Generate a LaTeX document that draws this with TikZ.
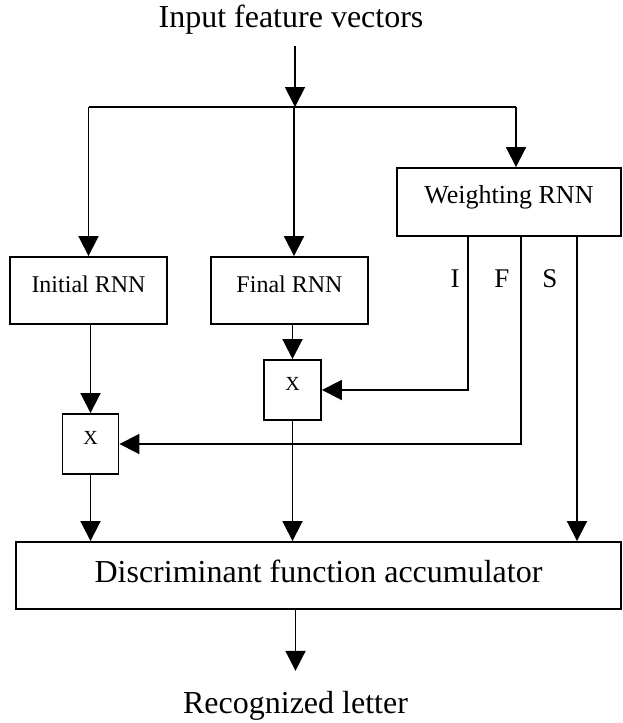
\documentclass[tikz,border=0pt]{standalone}
\usepackage{fontspec}
\setmainfont{Liberation Serif}
\usetikzlibrary{arrows.meta}
\begin{document}
\begin{tikzpicture}[x=1pt,y=-1pt,
  line width=1.9pt,
  arr/.style={-{Triangle[length=20pt,width=20pt]}},
  plain/.style={draw=none,inner sep=0pt,anchor=base},
  boxn/.style={draw,rectangle,inner sep=0pt},
  big/.style={font=\fontsize{32}{38}\selectfont},
  mid/.style={font=\fontsize{26}{31}\selectfont},
  sml/.style={font=\fontsize{24}{29}\selectfont},
  xs/.style={font=\fontsize{20}{24}\selectfont},
  lab/.style={font=\fontsize{27}{32}\selectfont}]
\useasboundingbox (0,0) rectangle (623,723);

\node[plain,big] (title) at (291,27) {Input feature vectors};
\node[plain,big] (out) at (295.5,713) {Recognized letter};

\node[boxn,mid,minimum width=224pt,minimum height=68pt,text height=10pt,text depth=6.8pt] (w) at (509,202) {Weighting RNN};
\node[boxn,sml,minimum width=157pt,minimum height=67pt,text height=10pt,text depth=7pt] (irnn) at (88.5,290.5) {Initial RNN};
\node[boxn,sml,minimum width=157pt,minimum height=67pt,text height=10pt,text depth=7pt] (frnn) at (289.5,290.5) {Final RNN};
\node[boxn,xs,minimum width=57pt,minimum height=60pt,text height=7pt,text depth=7pt] (x2) at (292.5,390) {X};
\node[boxn,xs,minimum width=56pt,minimum height=60pt,text height=7pt,text depth=7pt] (x1) at (90.5,444) {X};
\node[boxn,big,minimum width=605pt,minimum height=67pt,text height=22pt,text depth=9pt] (acc) at (318.5,575.5) {Discriminant function accumulator};

\node[plain,lab] (lI) at (455,287) {I};
\node[plain,lab] (lF) at (502,287) {F};
\node[plain,lab] (lS) at (550,287) {S};

\coordinate (j) at (295,107);
\coordinate (jl) at (88.5,107);
\coordinate (jm) at (294,107);
\coordinate (jr) at (516,107);
\coordinate (wI) at (468,236);
\coordinate (wF) at (521,236);
\coordinate (wS) at (577,236);

% input
\draw[arr] ([yshift=-11pt]title.south -| j) -- (j);
\draw (jl) -- (jr);
\draw[arr] (jl) -- (irnn.north);
\draw[arr] (jm) -- (jm |- frnn.north);
\draw[arr] (jr) -- (jr |- w.north);

% RNN outputs
\draw[arr] (irnn.south -| x1.north) -- (x1.north);
\draw[arr] (frnn.south -| x2.north) -- (x2.north);

% weighting outputs
\draw[arr] (wI) |- (x2.east);
\draw[arr] (wF) |- (x1.east);
\draw[arr] (wS) -- (wS |- acc.north);

% to accumulator
\draw[arr] (x1.south) -- (x1.south |- acc.north);
\draw[arr] (x2.south) -- (x2.south |- acc.north);

% output
\draw[arr] (acc.south -| out) -- ([yshift=19pt]out.north);
\end{tikzpicture}
\end{document}
